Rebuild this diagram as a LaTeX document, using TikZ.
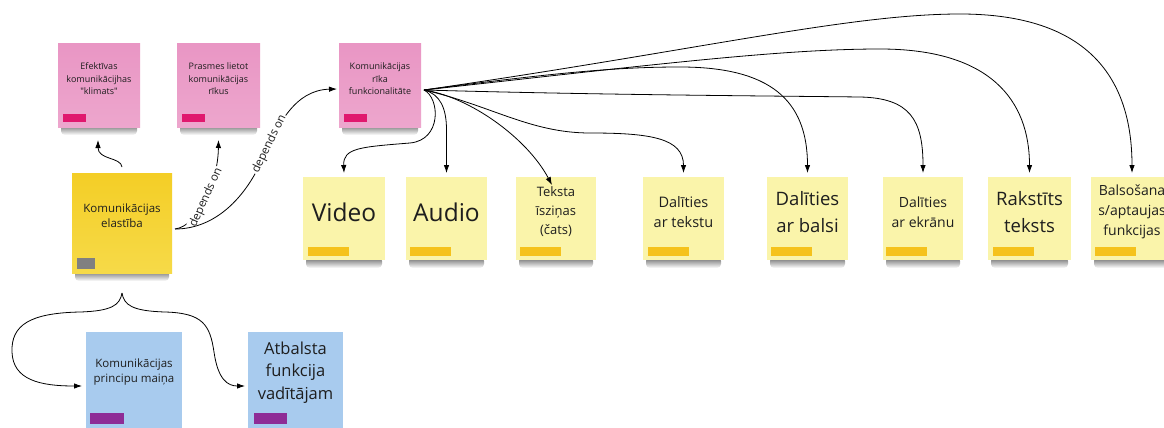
\documentclass[tikz,border=0pt]{standalone}
\usepackage{fontspec}
\setmainfont{Open Sans}
\newfontfamily\plainquotes{Open Sans}
\usetikzlibrary{arrows.meta,fadings}

\definecolor{pinknote}{RGB}{233,150,196}
\definecolor{pinklight}{RGB}{237,166,205}
\definecolor{pinkbar}{RGB}{224,24,110}
\definecolor{goldnote}{RGB}{244,206,38}
\definecolor{goldlight}{RGB}{246,218,72}
\definecolor{greybar}{RGB}{128,128,128}
\definecolor{palenote}{RGB}{250,244,170}
\definecolor{orangebar}{RGB}{245,194,28}
\definecolor{bluenote}{RGB}{168,203,238}
\definecolor{purplebar}{RGB}{142,44,150}
\definecolor{inktext}{RGB}{30,30,30}

% soft shadow under each sticky note: opaque on top, clear at the bottom
\tikzfading[name=shadowdrop, top color=transparent!0, bottom color=transparent!100]

% sticky note: name, left, top, right, bottom, body style
\newcommand\stickynote[6]{%
  \fill[notesh, path fading=shadowdrop] ({#2+3},{#5-3}) rectangle ({#4-3},{#5+8});
  \node[notebody, #6, minimum width={(#4-#2)*1pt}, minimum height={(#5-#3)*1pt}]
    (#1) at ({(#2+#4)/2},{(#3+#5)/2}) {};
}

\begin{document}
\begin{tikzpicture}[x=1pt,y=-1pt,
  notebody/.style={rectangle, inner sep=0pt, outer sep=0pt, draw=none},
  pinkbody/.style={top color=pinknote, bottom color=pinklight},
  goldbody/.style={top color=goldnote, bottom color=goldlight},
  palebody/.style={fill=palenote},
  bluebody/.style={fill=bluenote},
  notesh/.style={fill=black, fill opacity=0.6, rounded corners=4pt},
  notetext/.style={align=center, text=inktext, inner sep=0pt},
  link/.style={draw=black, line width=0.8pt, -{Latex[length=8pt,width=5.5pt]}},
  dep/.style={font=\fontsize{11.5}{13}\selectfont, fill=white, inner sep=1pt, sloped, text=inktext},
]
\useasboundingbox (0,0) rectangle (1164,428);
\fill[white] (0,0) rectangle (1164,428);
\clip (0,0) rectangle (1164,428);

% ---- notes ----
\stickynote{efekt}{58}{44}{140}{127}{pinkbody}
\stickynote{prasmes}{177}{44}{260}{127}{pinkbody}
\stickynote{rika}{339}{44}{421}{127}{pinkbody}
\stickynote{elast}{72}{173}{172}{273}{goldbody}
\stickynote{video}{303}{177}{385}{260}{palebody}
\stickynote{audio}{406}{177}{487}{260}{palebody}
\stickynote{teksta}{516}{177}{596}{260}{palebody}
\stickynote{tekstu}{643}{177}{724}{260}{palebody}
\stickynote{balsi}{767}{177}{848}{260}{palebody}
\stickynote{ekranu}{883}{177}{963}{260}{palebody}
\stickynote{rakst}{988}{177}{1071}{260}{palebody}
\stickynote{balsos}{1091}{177}{1173}{260}{palebody}
\stickynote{princ}{86}{332}{182}{428}{bluebody}
\stickynote{atbal}{248}{332}{343}{428}{bluebody}

% ---- tag bars ----
\fill[pinkbar] (63,114) rectangle (86,122);
\fill[pinkbar] (182,114) rectangle (205,122);
\fill[pinkbar] (344,114) rectangle (367,122);
\fill[greybar] (77,258) rectangle (95,269);
\foreach \bx in {308,410,520,648,771,886,993,1095}
  \fill[orangebar] (\bx,247) rectangle ({\bx+41},256);
\fill[purplebar] (90,413) rectangle (124,424);
\fill[purplebar] (254,413) rectangle (287,424);

% ---- texts ----
\node[notetext, font=\plainquotes\fontsize{9}{12.5}\selectfont] (efekt-t) at ([yshift=6.5pt]efekt.center)
  {Efektīvas\\komunikācijhas\\"klimats"};
\node[notetext, font=\fontsize{9}{12.5}\selectfont] (prasmes-t) at ([yshift=6.5pt]prasmes.center)
  {Prasmes lietot\\komunikācijas\\rīkus};
\node[notetext, font=\fontsize{9}{12.5}\selectfont] (rika-t) at ([yshift=6.5pt]rika.center)
  {Komunikācijas\\rīka\\funkcionalitāte};
\node[notetext, font=\fontsize{11.5}{15}\selectfont] (elast-t) at ([yshift=7.5pt]elast.center)
  {Komunikācijas\\elastība};
\node[notetext, font=\fontsize{24.5}{30}\selectfont] (video-t) at ([yshift=6.5pt]video.center) {Video};
\node[notetext, font=\fontsize{24.5}{30}\selectfont] (audio-t) at ([yshift=6.5pt]audio.center) {Audio};
\node[notetext, font=\fontsize{13}{19}\selectfont] (teksta-t) at ([yshift=6.5pt]teksta.center)
  {Teksta\\īsziņas\\(čats)};
\node[notetext, font=\fontsize{14.5}{20}\selectfont] (tekstu-t) at ([yshift=6.5pt]tekstu.center)
  {Dalīties\\ar tekstu};
\node[notetext, font=\fontsize{18.5}{26.5}\selectfont] (balsi-t) at ([yshift=6.5pt]balsi.center)
  {Dalīties\\ar balsi};
\node[notetext, font=\fontsize{14}{20}\selectfont] (ekranu-t) at ([yshift=6.5pt]ekranu.center)
  {Dalīties\\ar ekrānu};
\node[notetext, font=\fontsize{18.5}{26.5}\selectfont] (rakst-t) at ([yshift=6.5pt]rakst.center)
  {Rakstīts\\teksts};
\node[notetext, font=\fontsize{14}{20}\selectfont] (balsos-t) at ([yshift=6.5pt]balsos.center)
  {Balsošana\\s/aptaujas\\funkcijas};
\node[notetext, font=\fontsize{11.5}{15}\selectfont] (princ-t) at ([yshift=7.5pt]princ.center)
  {Komunikācijas\\principu maiņa};
\node[notetext, font=\fontsize{16.5}{22.5}\selectfont] (atbal-t) at ([yshift=7.5pt]atbal.center)
  {Atbalsta\\funkcija\\vadītājam};

% ---- connectors from the flexibility note ----
\draw[link] ([yshift=6pt]elast.north) .. controls (121,157) and (98,160) .. ([shift={(-1pt,-13pt)}]efekt.south);
\draw[link] ([shift={(3pt,-6pt)}]elast.east) .. controls (198,226) and (218,183) .. ([yshift=-13pt]prasmes.south)
  node[dep, pos=0.52] (dep1) {depends on};
\draw[link] ([shift={(3pt,-6pt)}]elast.east) .. controls (215,229) and (245,198) .. (262,160)
  .. controls (278,124) and (295,90) .. ([shift={(-2pt,-3.5pt)}]rika.west)
  node[dep, pos=0.15] (dep2) {depends on};

% brace-like split below the flexibility note
\draw[link] ([yshift=-20pt]elast.south) .. controls (120,305) and (112,311) .. (80,312)
  .. controls (30,313) and (11,325) .. (12,352)
  .. controls (13,380) and (40,386) .. ([shift={(-4pt,-6pt)}]princ.west);
\draw[link] ([yshift=-20pt]elast.south) .. controls (124,305) and (132,311) .. (165,312)
  .. controls (203,313) and (210,325) .. (214,352)
  .. controls (218,380) and (228,386) .. ([shift={(-3pt,-6pt)}]atbal.west);

% ---- fan of features from the tool note ----
\draw[link] ([shift={(3pt,-4.5pt)}]rika.east) .. controls (440,98) and (442,140) .. (410,143)
  .. controls (360,147) and (343,148) .. ([yshift=4pt]video.north);
\draw[link] ([shift={(3pt,-4.5pt)}]rika.east) .. controls (440,94) and (446.5,108) .. (446.5,130)
  -- ([yshift=4pt]audio.north);
\draw[link] ([shift={(3pt,-4.5pt)}]rika.east) .. controls (470,97) and (527,138) .. ([shift={(-4pt,-8pt)}]teksta.north);
\draw[link] ([shift={(3pt,-4.5pt)}]rika.east) .. controls (490,105) and (530,133) .. (590,133)
  .. controls (650,133) and (683.5,138) .. ([yshift=4pt]tekstu.north);
\draw[link] ([shift={(3pt,-4.5pt)}]rika.east) .. controls (560,72) and (620,67) .. (680,67)
  .. controls (770,67) and (807.5,100) .. ([yshift=4pt]balsi.north);
\draw[link] ([shift={(3pt,-4.5pt)}]rika.east) .. controls (600,95) and (780,96) .. (860,97)
  .. controls (910,98) and (923,120) .. ([yshift=4pt]ekranu.north);
\draw[link] ([shift={(3pt,-4.5pt)}]rika.east) .. controls (650,65) and (780,49) .. (880,49)
  .. controls (990,49) and (1029.5,100) .. ([yshift=4pt]rakst.north);
\draw[link] ([shift={(3pt,-4.5pt)}]rika.east) .. controls (700,50) and (850,14) .. (960,14)
  .. controls (1090,14) and (1132,80) .. ([yshift=4pt]balsos.north);
\end{tikzpicture}
\end{document}
